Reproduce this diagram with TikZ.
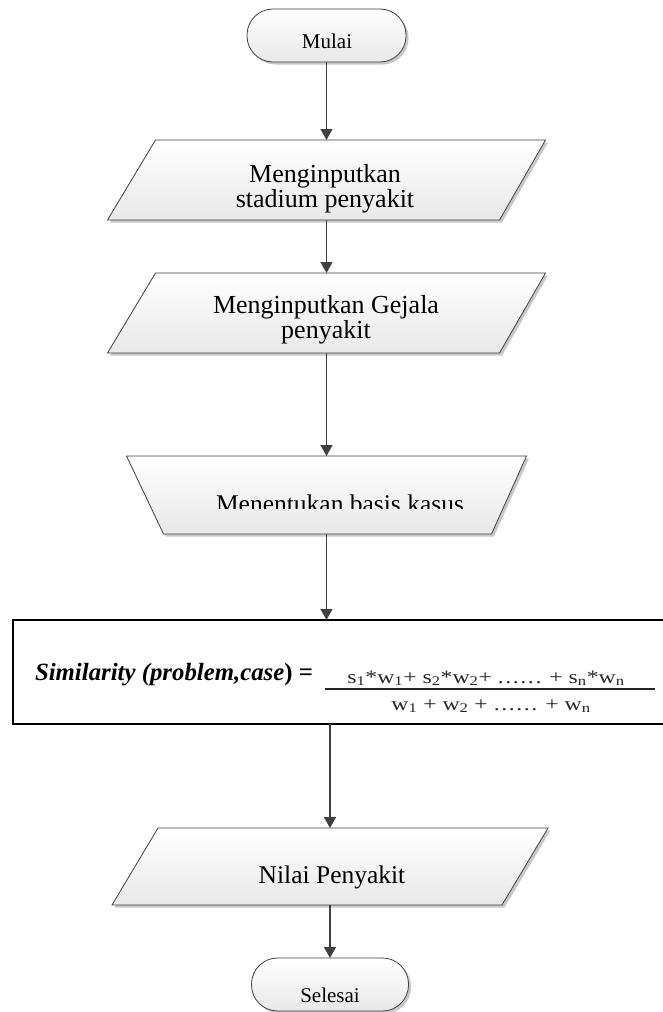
\documentclass[tikz,border=0pt]{standalone}
\usepackage{fontspec}
\setmainfont{Liberation Serif}
\newfontfamily\formfont{Liberation Serif}[FakeStretch=1.25]
\usetikzlibrary{arrows.meta,calc}
\definecolor{linegray}{HTML}{404040}
\definecolor{shadowgray}{HTML}{C8C8C8}
\definecolor{fillbottom}{HTML}{E8E8E8}
\newcommand\myfs[2]{\fontsize{#1}{#2}\selectfont}
\newcommand\mydots{.\kern1.6pt.\kern1.6pt.\kern1.6pt.\kern1.6pt.\kern1.6pt.}
% name, top-left inset, top-right inset, bottom-right inset, bottom-left inset
\newcommand\quadshape[5]{%
  \fill[shadowfill] ($(#1.north west)+(#2+2.5,2.5)$) -- ($(#1.north east)+(-#3+2.5,2.5)$) -- ($(#1.south east)+(-#4+2.5,2.5)$) -- ($(#1.south west)+(#5+2.5,2.5)$) -- cycle;
  \path[shapeline] ($(#1.north west)+(#2,0)$) -- ($(#1.north east)+(-#3,0)$) -- ($(#1.south east)+(-#4,0)$) -- ($(#1.south west)+(#5,0)$) -- cycle;}
\newcommand\termshape[1]{%
  \fill[shadowfill, rounded corners=26pt] ($(#1.north west)+(2.5,2.5)$) rectangle ($(#1.south east)+(2.5,2.5)$);
  \path[shapeline, rounded corners=26pt] (#1.north west) rectangle (#1.south east);}
\begin{document}
\begin{tikzpicture}[x=1pt,y=-1pt,
  hit/.style={draw=none, rectangle, inner sep=0pt, outer sep=0pt},
  shapeline/.style={draw=linegray, line width=0.8pt, top color=white, bottom color=fillbottom},
  shadowfill/.style={fill=shadowgray, draw=none},
  conn/.style={draw=linegray, line width=1.5pt, -{Triangle[length=11pt,width=12pt]}},
  txt/.style={inner sep=0pt, outer sep=0pt, text=black},
  bigtxt/.style={txt, font=\myfs{26}{25}, align=center},
  midtxt/.style={txt, font=\myfs{25.5}{25}},
  termtxt/.style={txt, font=\myfs{21}{21}},
  formtxt/.style={txt, font=\formfont\myfs{19}{19}, text=black!85}]
\clip (0,0) rectangle (663,1012);
\fill[white] (0,0) rectangle (663,1012);

% shape extents
\node[hit, minimum width=159pt, minimum height=53pt] (start) at (326.5,35.5) {};
\node[hit, minimum width=438pt, minimum height=80pt] (p1) at (326.5,180) {};
\node[hit, minimum width=438pt, minimum height=80pt] (p2) at (326.5,313) {};
\node[hit, minimum width=400pt, minimum height=78pt] (p3) at (326.5,495) {};
\node[hit, minimum width=436pt, minimum height=77pt] (p5) at (330,866.5) {};
\node[hit, minimum width=157pt, minimum height=53pt] (stop) at (330,984.5) {};

% shapes
\termshape{start}
\quadshape{p1}{48}{0}{46}{0}
\quadshape{p2}{48}{0}{46}{0}
\quadshape{p3}{0}{0}{35}{37}
\quadshape{p5}{46}{0}{46}{0}
\termshape{stop}

% formula box
\node[hit, draw=black, line width=2pt, fill=white, minimum width=655pt, minimum height=104pt] (box) at (340.5,672) {};

% texts
\node[termtxt, anchor=base] (tstart) at (327,48) {Mulai};
\node[bigtxt] (t1) at (325,188.4) {Menginputkan\\stadium penyakit};
\node[bigtxt] (t2) at (326,319.4) {Menginputkan Gejala\\penyakit};
\begin{scope}
  \clip (100,456) rectangle (560,508);
  \node[midtxt, anchor=base] (t3) at (340,512) {Menentukan basis kasus};
\end{scope}
\node[txt, font=\myfs{24.8}{25}\bfseries\itshape, anchor=base west] (sim) at (35,680) {Similarity (problem,case\textup{)} \textup{=}};
\node[formtxt, anchor=base] (num) at (486,683) {s\textsubscript{1}*w\textsubscript{1}+ s\textsubscript{2}*w\textsubscript{2}+ \mydots{} + s\textsubscript{n}*w\textsubscript{n}};
\coordinate (fracL) at (325,689);
\coordinate (fracR) at (655,689);
\draw[line width=1.8pt, draw=black!85] (fracL) -- (fracR);
\node[formtxt, anchor=base] (den) at (491,710) {w\textsubscript{1} + w\textsubscript{2} + \mydots{} + w\textsubscript{n}};
\node[midtxt, anchor=base] (t5) at (332,883) {Nilai Penyakit};
\node[termtxt, anchor=base] (tstop) at (330,1002) {Selesai};

% connectors
\draw[conn] (start.south) -- (p1.north);
\draw[conn] (p1.south) -- (p2.north);
\draw[conn] (p2.south) -- (p3.north);
\draw[conn] (p3.south) -- (p3.south |- box.north);
\draw[conn] (box.south -| p5.north) -- (p5.north);
\draw[conn] (p5.south) -- (stop.north);
\end{tikzpicture}
\end{document}
